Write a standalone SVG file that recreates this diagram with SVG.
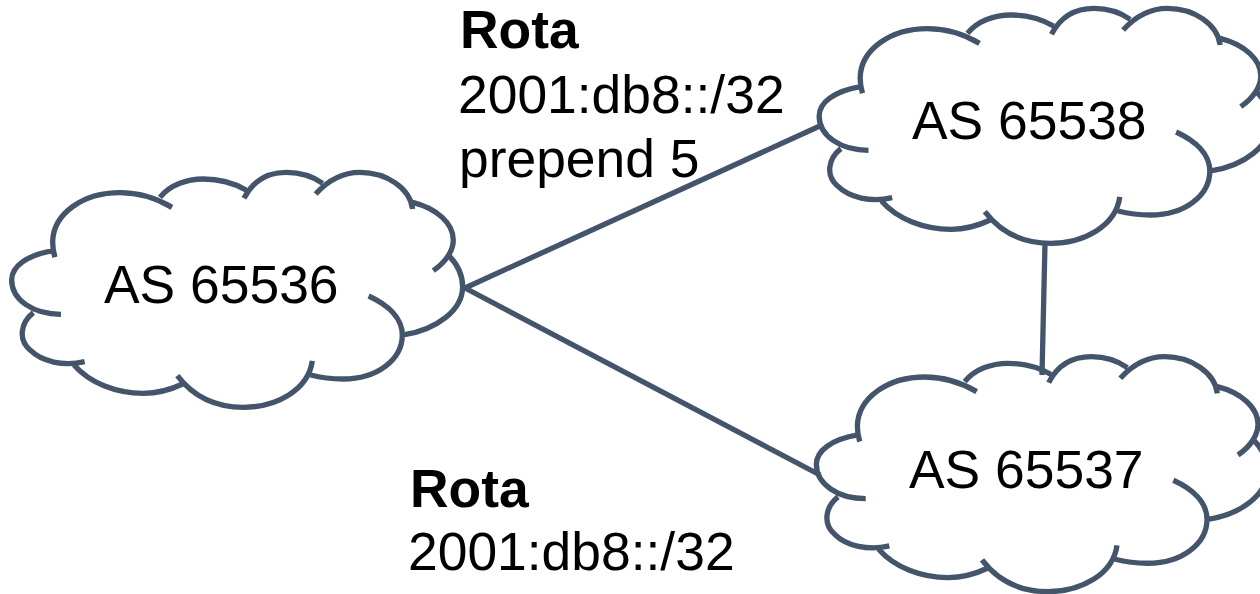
<svg xmlns="http://www.w3.org/2000/svg" width="1260" height="594" viewBox="0 0 1260 594">
<style>
.edge{fill:none;stroke:#44546a;stroke-width:5.3}
.cloud{fill:none;stroke:#44546a;stroke-width:16}
text{font-family:"Liberation Sans",Arial,sans-serif;font-size:53.4px;fill:#000}
.b{font-weight:bold}
</style>
<defs>
<path id="cloud" class="cloud" d="M160,272C80,285 35,320 35,360C35,420 100,463 183,463M100,458C60,490 55,540 90,570C125,605 190,620 254,605M222,615C270,670 350,700 430,700C470,700 510,690 548,672M532,647C580,710 650,742 730,742C830,742 925,690 937,603M932,645C970,655 1000,657 1030,657C1130,657 1207,600 1207,525C1207,475 1165,435 1106,408M1210,525C1310,510 1388,450 1388,380C1388,345 1370,310 1345,285M1300,332C1340,305 1360,270 1360,240C1360,190 1310,145 1238,127M1238,147C1230,85 1160,37 1080,37C1030,37 985,60 947,102M968,70C940,50 900,37 860,37C805,37 760,60 732,115M738,90C700,68 660,57 610,57C560,57 510,75 480,112M516,142C470,115 420,98 360,98C250,98 160,160 158,245C158,260 160,275 165,292"/>
</defs>
<rect width="1260" height="594" fill="#fff"/>
<g id="connectors">
<line class="edge" x1="465" y1="288" x2="822" y2="125"/>
<line class="edge" x1="465" y1="288" x2="820" y2="475"/>
<line class="edge" x1="1045" y1="243" x2="1042" y2="375"/>
</g>
<g id="as65536">
<use href="#cloud" transform="translate(0,160) scale(0.3333)"/>
<text x="104" y="303">AS 65536</text>
</g>
<g id="as65538">
<use href="#cloud" transform="translate(807.5,-4) scale(0.3333)"/>
<text x="912" y="139">AS 65538</text>
</g>
<g id="as65537">
<use href="#cloud" transform="translate(804.7,344.3) scale(0.3333)"/>
<text x="909" y="488">AS 65537</text>
</g>
<g id="label-prepend">
<text class="b" x="460" y="48">Rota</text>
<text x="458" y="113">2001:db8::/32</text>
<text x="459" y="177">prepend 5</text>
</g>
<g id="label-route">
<text class="b" x="410" y="507">Rota</text>
<text x="408" y="570">2001:db8::/32</text>
</g>
</svg>
